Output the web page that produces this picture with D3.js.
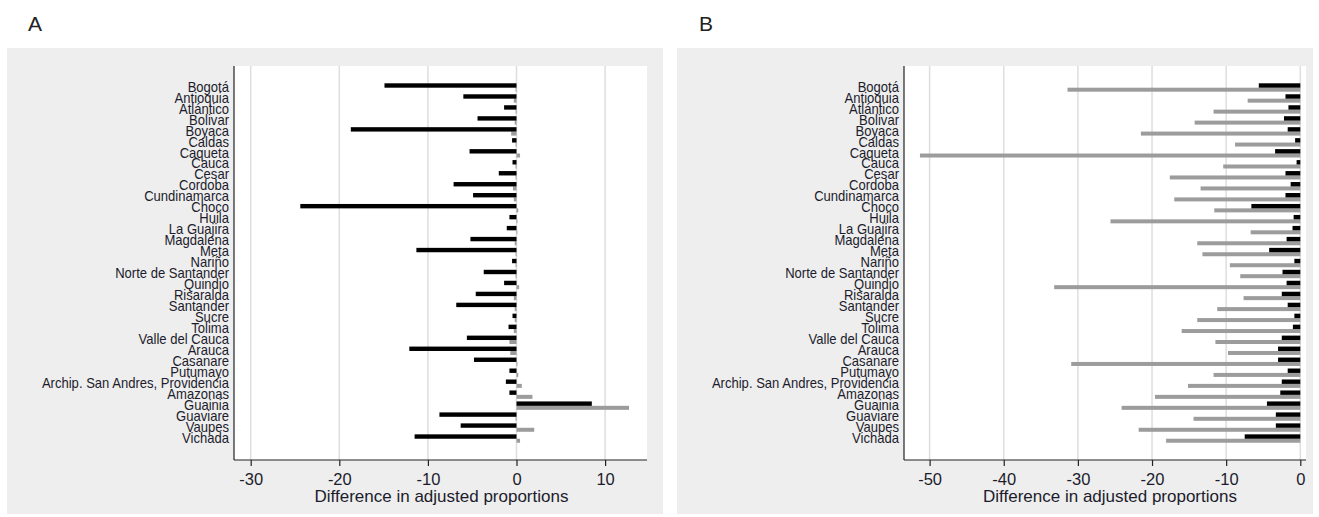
<!DOCTYPE html>
<html>
<head>
<meta charset="utf-8">
<script src="https://cdn.jsdelivr.net/npm/d3@7"></script>
<style>
  html, body { margin: 0; padding: 0; background: #ffffff; }
  svg { display: block; font-family: "Liberation Sans", Arial, sans-serif; }
</style>
</head>
<body>
<svg id="chart" width="1319" height="517"></svg>
<script>
const categories = ["Bogotá","Antioquia","Atlántico","Bolivar","Boyaca","Caldas","Caqueta","Cauca","Cesar","Cordoba","Cundinamarca","Choco","Huila","La Guajira","Magdalena","Meta","Nariño","Norte de Santander","Quindio","Risaralda","Santander","Sucre","Tolima","Valle del Cauca","Arauca","Casanare","Putumayo","Archip. San Andres, Providencia","Amazonas","Guainia","Guaviare","Vaupes","Vichada"];

const aBlack = [-14.9,-6.0,-1.4,-4.4,-18.7,-0.5,-5.3,-0.45,-2.0,-7.1,-4.9,-24.4,-0.8,-1.1,-5.2,-11.3,-0.5,-3.7,-1.4,-4.6,-6.8,-0.45,-0.9,-5.6,-12.1,-4.8,-0.8,-1.2,-0.8,8.5,-8.7,-6.3,-11.5];
const aGray  = [-0.1,-0.3,-0.1,-0.2,-0.6,-0.1,0.4,-0.1,-0.1,-0.4,-0.3,0.2,0.1,0.05,-0.2,-0.1,-0.1,-0.1,0.3,-0.3,-0.2,-0.2,-0.3,-0.8,-0.7,0.1,0.2,0.6,1.8,12.7,-0.1,2.0,0.4];

const bBlack = [-5.6,-2.0,-1.6,-2.2,-1.7,-0.7,-3.4,-0.5,-2.0,-1.3,-2.0,-6.6,-0.9,-1.05,-1.85,-4.2,-0.8,-2.4,-1.85,-2.5,-1.7,-0.8,-1.0,-2.5,-3.0,-3.0,-1.7,-2.5,-2.7,-4.5,-3.3,-3.3,-7.5];
const bGray  = [-31.4,-7.1,-11.7,-14.25,-21.5,-8.8,-51.3,-10.4,-17.6,-13.45,-17.0,-11.6,-25.6,-6.7,-13.9,-13.2,-9.5,-8.1,-33.2,-7.65,-11.2,-13.9,-16.0,-11.45,-9.75,-30.9,-11.7,-15.15,-19.6,-24.1,-14.4,-21.8,-18.1];

const aTicks = [-30,-20,-10,0,10];
const bTicks = [-50,-40,-30,-20,-10,0];
const xTitle = "Difference in adjusted proportions";
const panelLetters = ["A","B"];

const svg = d3.select("#chart");
const textColor = "#1c1c2c";

const panels = [
  { letter: panelLetters[0], black: aBlack, gray: aGray, ticks: aTicks,
    bg: [7, 663], plot: [234, 647], domain: [-30, 10], range: [250.7, 605.1], letterX: 28, titleShift: 1 },
  { letter: panelLetters[1], black: bBlack, gray: bGray, ticks: bTicks,
    bg: [677, 1313], plot: [904, 1306], domain: [-50, 0], range: [929.6, 1300.3], letterX: 699, titleShift: 5 }
];

const plotTop = 66, plotBottom = 460, bgTop = 48, bgBottom = 514;
const step = 10.97;
const y = d3.scaleBand().domain(categories).range([80, 80 + step * categories.length]).padding(0);

panels.forEach(p => {
  const g = svg.append("g");
  const x = d3.scaleLinear().domain(p.domain).range(p.range);

  // panel letter
  g.append("text").attr("x", p.letterX).attr("y", 31)
    .attr("font-size", 21).attr("fill", "#222").text(p.letter);

  // backgrounds
  g.append("rect").attr("x", p.bg[0]).attr("y", bgTop)
    .attr("width", p.bg[1] - p.bg[0]).attr("height", bgBottom - bgTop).attr("fill", "#eeeeee");
  g.append("rect").attr("x", p.plot[0]).attr("y", plotTop)
    .attr("width", p.plot[1] - p.plot[0]).attr("height", plotBottom - plotTop).attr("fill", "#ffffff");

  // gridlines
  g.selectAll(".grid").data(p.ticks).join("line")
    .attr("x1", d => x(d)).attr("x2", d => x(d))
    .attr("y1", plotTop).attr("y2", plotBottom)
    .attr("stroke", "#dedede").attr("stroke-width", 1.5);

  // gray bars
  g.selectAll(".gbar").data(categories).join("rect")
    .attr("x", (d, i) => x(Math.min(0, p.gray[i])))
    .attr("width", (d, i) => Math.max(0.8, Math.abs(x(p.gray[i]) - x(0))))
    .attr("y", d => y(d) + 7.7).attr("height", 4.0)
    .attr("fill", "#9c9c9c");

  // black bars
  g.selectAll(".bbar").data(categories).join("rect")
    .attr("x", (d, i) => x(Math.min(0, p.black[i])))
    .attr("width", (d, i) => Math.max(0.8, Math.abs(x(p.black[i]) - x(0))))
    .attr("y", d => y(d) + 3.3).attr("height", 4.4)
    .attr("fill", "#000000");

  // category labels (slightly condensed, as in the original)
  g.selectAll(".lab").data(categories).join("text")
    .attr("transform", d => `translate(${p.plot[0] - 5},${y(d) + 11.7}) scale(0.92,1)`)
    .attr("text-anchor", "end").attr("font-size", 14.2)
    .attr("fill", textColor).text(d => d);

  // y axis line
  g.append("line").attr("x1", p.plot[0]).attr("x2", p.plot[0])
    .attr("y1", plotTop).attr("y2", plotBottom)
    .attr("stroke", "#222").attr("stroke-width", 1.2);

  // x axis
  const axis = d3.axisBottom(x).tickValues(p.ticks).tickSize(6).tickSizeOuter(0)
    .tickFormat(d => String(d));
  const ax = g.append("g").attr("transform", `translate(0,${plotBottom})`).call(axis);
  ax.select(".domain").remove();
  ax.selectAll(".tick line").attr("stroke", "#222").attr("stroke-width", 1.2);
  ax.selectAll(".tick text").attr("y", 25).attr("dy", null)
    .attr("font-size", 16.5).attr("font-family", "Liberation Sans, Arial, sans-serif")
    .attr("fill", textColor);
  g.append("line").attr("x1", p.plot[0]).attr("x2", p.plot[1])
    .attr("y1", plotBottom).attr("y2", plotBottom)
    .attr("stroke", "#222").attr("stroke-width", 1.2);

  // x title
  g.append("text").attr("x", (p.plot[0] + p.plot[1]) / 2 + p.titleShift).attr("y", 501.5)
    .attr("text-anchor", "middle").attr("font-size", 17)
    .attr("fill", textColor).text(xTitle);
});
</script>
</body>
</html>
